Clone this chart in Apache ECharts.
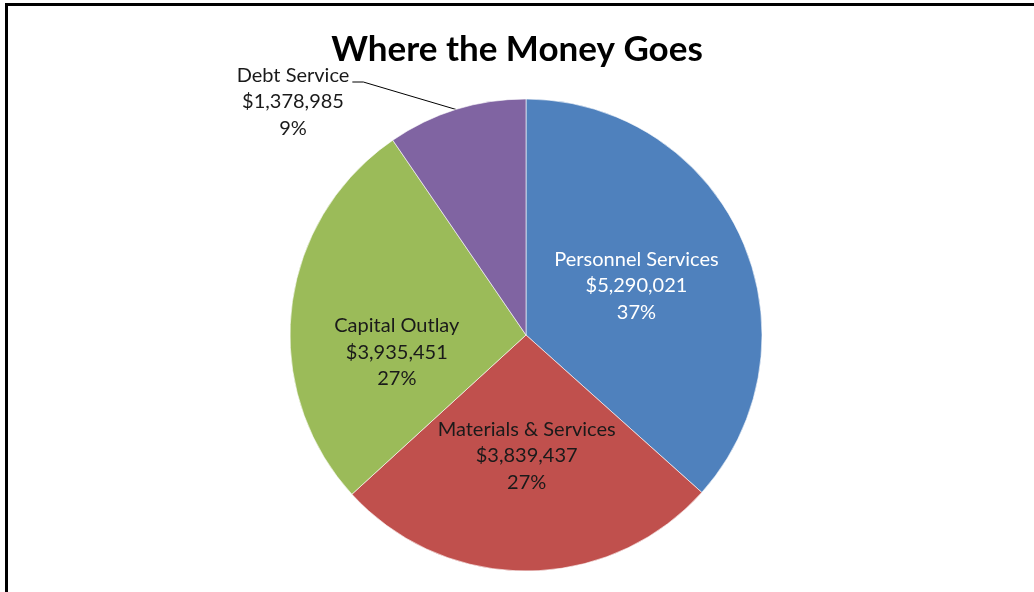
<!DOCTYPE html>
<html>
<head>
<meta charset="utf-8">
<script src="https://cdn.jsdelivr.net/npm/echarts@6/dist/echarts.min.js"></script>
<style>
  html, body { margin: 0; padding: 0; background: #fff; overflow: hidden; }
  #chart { width: 1034px; height: 592px; position: absolute; left: 0; top: 0; }
  #frame { position: absolute; left: 5px; top: 3px; width: 1200px; height: 800px;
           border: 3px solid #000; pointer-events: none; }
</style>
</head>
<body>
<div id="chart"></div>
<div id="frame"></div>
<script>
// Budget breakdown
const categories = ['Personnel Services', 'Materials & Services', 'Capital Outlay', 'Debt Service'];
const amounts = [5290021, 3839437, 3935451, 1378985];
const percentLabels = ['37%', '27%', '27%', '9%'];
const sliceColors = ['#4f81bd', '#c0504d', '#9bbb59', '#8064a2'];
const labelColors = ['#ffffff', '#1a1a1a', '#1a1a1a', '#1a1a1a'];

const fmtMoney = v => '$' + v.toLocaleString('en-US');

const seriesData = categories.map((name, i) => {
  const item = {
    name: name,
    value: amounts[i],
    itemStyle: { color: sliceColors[i] },
    label: { color: labelColors[i] }
  };
  if (i === 3) {
    item.label.position = 'outside';
    item.labelLine = { show: true, length: 20, length2: 60, lineStyle: { color: '#000', width: 1 } };
  }
  return item;
});

// Debt Service label block sits above-left of its slice, leader tied to its first line
const debtLabelCenterX = 293;
const debtLabelTop = 62;

const chart = echarts.init(document.getElementById('chart'), null, { renderer: 'canvas' });
chart.setOption({
  animation: false,
  backgroundColor: '#fff',
  title: {
    text: 'Where the Money Goes',
    left: 'center',
    top: 27,
    textStyle: { fontFamily: 'Lato', fontWeight: 'bold', fontSize: 35, color: '#000' }
  },
  series: [{
    type: 'pie',
    center: [526, 335],
    radius: 236,
    startAngle: 90,
    clockwise: true,
    avoidLabelOverlap: false,
    itemStyle: { borderColor: 'rgba(255,255,255,0.6)', borderWidth: 1 },
    label: {
      show: true,
      position: 'inside',
      fontFamily: 'Lato',
      fontSize: 20,
      lineHeight: 26.5,
      align: 'center',
      formatter: p => p.name + '\n' + fmtMoney(p.value) + '\n' + percentLabels[p.dataIndex]
    },
    labelLine: { show: false },
    labelLayout: function (params) {
      if (params.dataIndex === 2) {
        return { dx: -9, dy: 31 };
      }
      if (params.dataIndex === 3) {
        const half = params.labelRect.width / 2;
        const lineY = debtLabelTop + 20;
        const start = params.labelLinePoints ? params.labelLinePoints[0] : [456, 110];
        return {
          x: debtLabelCenterX,
          y: debtLabelTop,
          align: 'center',
          verticalAlign: 'top',
          labelLinePoints: [
            start,
            [debtLabelCenterX + half + 14, lineY],
            [debtLabelCenterX + half + 3, lineY]
          ]
        };
      }
    },
    emphasis: { disabled: true },
    data: seriesData
  }]
});
</script>
</body>
</html>
